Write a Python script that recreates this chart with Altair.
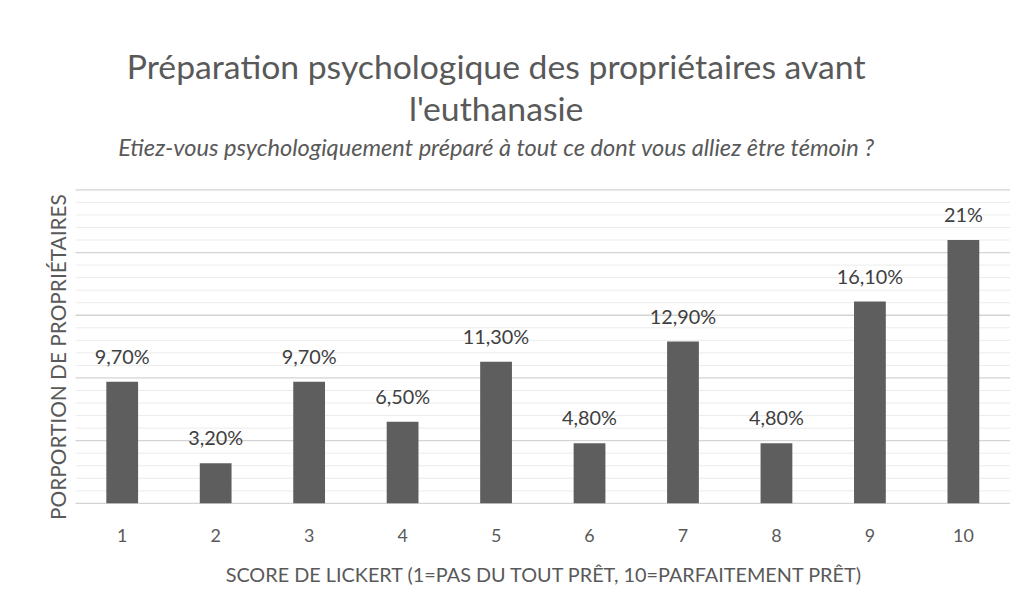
import altair as alt
import pandas as pd

scores = ["1", "2", "3", "4", "5", "6", "7", "8", "9", "10"]
values = [9.7, 3.2, 9.7, 6.5, 11.3, 4.8, 12.9, 4.8, 16.1, 21.0]
labels = ["9,70%", "3,20%", "9,70%", "6,50%", "11,30%", "4,80%", "12,90%", "4,80%", "16,10%", "21%"]
minor_grid = [v for v in range(0, 26) if v % 5 != 0]
major_grid = [0, 5, 10, 15, 20, 25]

df = pd.DataFrame({"score": scores, "value": values, "label": labels})
minor_df = pd.DataFrame({"value": minor_grid})
major_df = pd.DataFrame({"value": major_grid})

FONT = "Lato"
GRAY = "#595959"

yscale = alt.Scale(domain=[0, 25], nice=False)

y_axis = alt.Axis(
    title="PORPORTION DE PROPRIÉTAIRES",
    labels=False,
    ticks=False,
    domain=False,
    grid=False,
    titleFont=FONT,
    titleFontSize=21,
    titleFontWeight="normal",
    titleColor=GRAY,
    titlePadding=6,
    titleY=168,
)

x_enc = alt.X(
    "score:N",
    sort=scores,
    scale=alt.Scale(paddingInner=0.66, paddingOuter=0.33),
    axis=alt.Axis(
        title="SCORE DE LICKERT (1=PAS DU TOUT PRÊT, 10=PARFAITEMENT PRÊT)",
        labelAngle=0,
        labelFontSize=18,
        labelColor=GRAY,
        labelPadding=24,
        labelFont=FONT,
        ticks=False,
        domain=False,
        grid=False,
        titleFont=FONT,
        titleFontSize=20,
        titleFontWeight="normal",
        titleColor=GRAY,
        titlePadding=21,
    ),
)

minor = alt.Chart(minor_df).mark_rule(color="#ebebeb", strokeWidth=1).encode(
    y=alt.Y("value:Q", scale=yscale, axis=y_axis)
)
major = alt.Chart(major_df).mark_rule(color="#d4d4d4", strokeWidth=1.3).encode(
    y=alt.Y("value:Q", scale=yscale, axis=y_axis)
)

bars = alt.Chart(df).mark_bar(color="#5e5e5e").encode(
    x=x_enc, y=alt.Y("value:Q", scale=yscale, axis=y_axis)
)

text = alt.Chart(df).mark_text(
    baseline="alphabetic", dy=-18, fontSize=20, font=FONT, color="#404040"
).encode(
    x=alt.X("score:N", sort=scores),
    y=alt.Y("value:Q", scale=yscale, axis=y_axis),
    text="label:N",
)

chart = (
    alt.layer(minor, major, bars, text)
    .properties(
        width=942,
        height=316,
        autosize=alt.AutoSizeParams(type="none"),
        padding={"left": 68, "top": 181, "right": 15, "bottom": 80},
        title=alt.TitleParams(
            text=["Préparation psychologique des propriétaires avant", "l'euthanasie"],
            subtitle="Etiez-vous psychologiquement préparé à tout ce dont vous alliez être témoin ?",
            font=FONT,
            fontSize=34,
            fontWeight="normal",
            color=GRAY,
            lineHeight=42,
            subtitleFont=FONT,
            subtitleFontSize=23.8,
            subtitleFontStyle="italic",
            subtitleColor=GRAY,
            subtitlePadding=9,
            anchor="middle",
            dx=-47,
            offset=29,
        ),
    )
    .configure(background="white")
    .configure_view(stroke="transparent", strokeWidth=0)
)

chart.save("out.html", embed_options={"renderer": "svg", "actions": False})
